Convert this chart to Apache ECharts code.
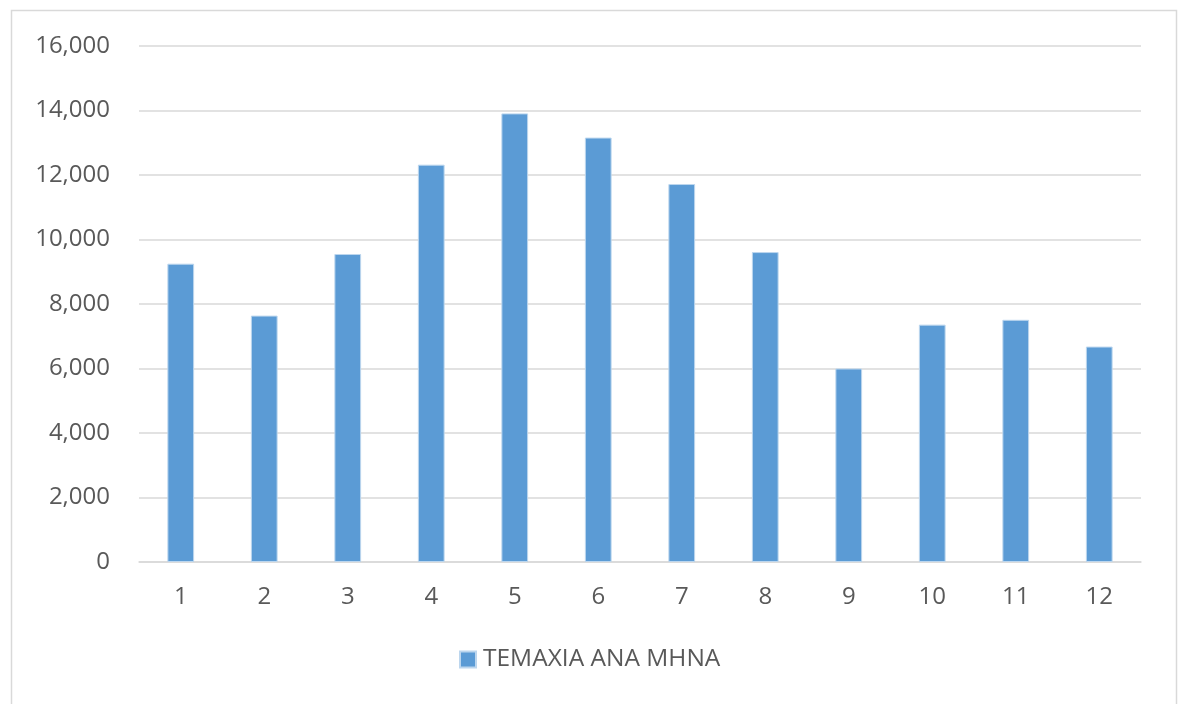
<!DOCTYPE html>
<html>
<head>
<meta charset="utf-8">
<script src="https://cdn.jsdelivr.net/npm/echarts@6/dist/echarts.min.js"></script>
<style>
  html, body { margin: 0; padding: 0; background: #ffffff; }
  #chart { width: 1178px; height: 704px; }
</style>
</head>
<body>
<div id="chart"></div>
<script>
// Months of the year and pieces sold in each
const months = ['1', '2', '3', '4', '5', '6', '7', '8', '9', '10', '11', '12'];
const piecesPerMonth = [9250, 7640, 9550, 12320, 13910, 13160, 11720, 9610, 6000, 7360, 7510, 6680];
const seriesName = 'ΤΕΜΑΧΙΑ ΑΝΑ ΜΗΝΑ';

const textColor = '#595959';
const fontFamily = '"Open Sans", "Liberation Sans", sans-serif';

const chart = echarts.init(document.getElementById('chart'), null, { renderer: 'canvas' });

chart.setOption({
  animation: false,
  backgroundColor: '#ffffff',
  graphic: [{
    type: 'rect',
    shape: { x: 11.5, y: 10.5, width: 1165, height: 720 },
    style: { fill: 'none', stroke: '#d9d9d9', lineWidth: 1.5 },
    silent: true
  }],
  grid: { left: 139, right: 37, top: 46, bottom: 142, containLabel: false },
  legend: {
    bottom: 27,
    left: 454,
    itemWidth: 16,
    itemHeight: 16,
    itemGap: 10,
    icon: 'rect',
    textStyle: { color: textColor, fontSize: 24.5, fontFamily: fontFamily, padding: [0, 0, 0, 2] },
    data: [seriesName]
  },
  xAxis: {
    type: 'category',
    data: months,
    axisLine: { lineStyle: { color: '#d9d9d9', width: 1.5 } },
    axisTick: { show: false },
    axisLabel: { color: textColor, fontSize: 24, fontFamily: fontFamily, margin: 23 }
  },
  yAxis: {
    type: 'value',
    min: 0,
    max: 16000,
    interval: 2000,
    axisLine: { show: false },
    axisTick: { show: false },
    splitLine: { lineStyle: { color: '#d9d9d9', width: 1.5 } },
    axisLabel: {
      color: textColor, fontSize: 24, fontFamily: fontFamily, margin: 29,
      formatter: v => v.toLocaleString('en-US')
    }
  },
  series: [{
    name: seriesName,
    type: 'bar',
    data: piecesPerMonth,
    barWidth: '32%',
    itemStyle: { color: '#5b9bd5', borderColor: '#bcd6ee', borderWidth: 1 }
  }]
});
</script>
</body>
</html>
